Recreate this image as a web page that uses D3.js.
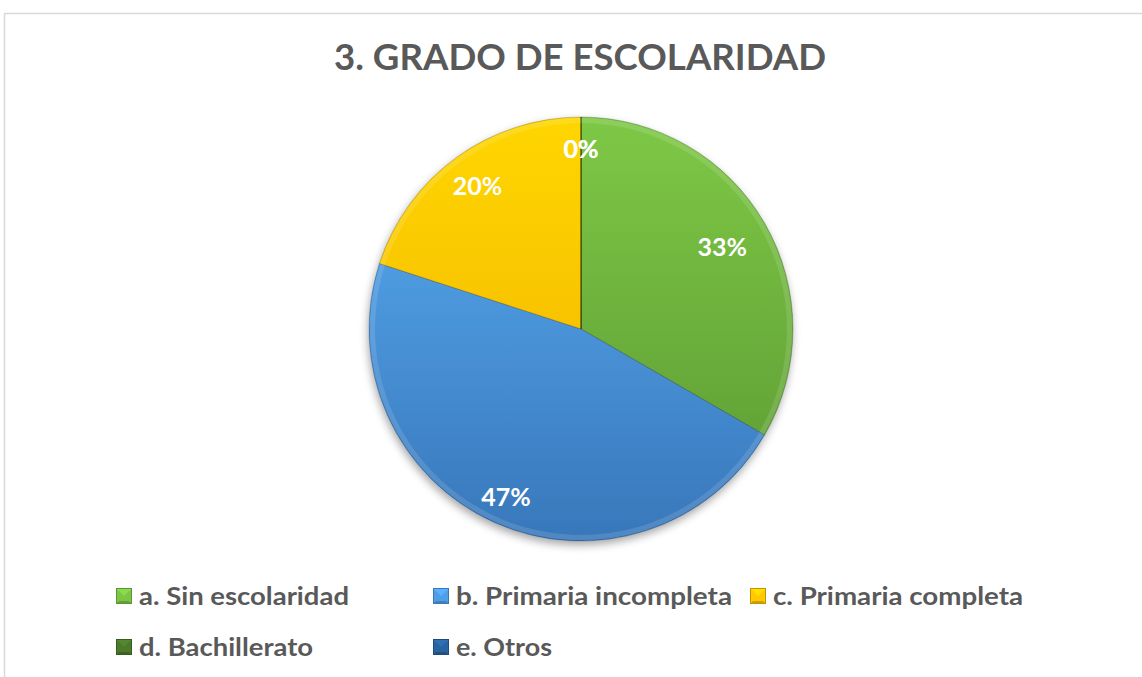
<!DOCTYPE html>
<html>
<head>
<meta charset="utf-8">
<script src="https://cdn.jsdelivr.net/npm/d3@7"></script>
<style>
  body { margin: 0; background: #fff; }
  svg { display: block; }
  text { font-family: Lato, "Open Sans", sans-serif; font-weight: bold; }
</style>
</head>
<body>
<script>
(function(){

//chart data
var title = "3. GRADO DE ESCOLARIDAD";
var categories = ["a. Sin escolaridad", "b. Primaria incompleta", "c. Primaria completa", "d. Bachillerato", "e. Otros"];
var counts = [5, 7, 3, 0, 0]; //respondents per category
var labelRadius = [0.77, 0.87, 0.83, 0.85, 0.85]; //label distance as share of the radius

//slice colours (top shade, bottom shade) and legend swatch colours
var sliceTop = ["#7ec846", "#5aaef5", "#ffd600", "#4e7d2c", "#2b68a6"];
var sliceBottom = ["#5a9832", "#3877ba", "#f0b000", "#3b6121", "#1f4e80"];
var swatch = ["#7cc545", "#4f9fe8", "#ffc800", "#4b7a2a", "#2a64a0"];

window.onload = drawChart();

function drawChart(){

  var width = 1142,
      height = 677;

  var svg = d3.select("body")
      .append("svg")
      .attr("width", width)
      .attr("height", height);

  var defs = svg.append("defs");

  //chart frame
  svg.append("rect")
      .attr("x", 4.5)
      .attr("y", 13.5)
      .attr("width", width + 10)
      .attr("height", height + 10)
      .attr("fill", "#fff")
      .attr("stroke", "#d9d9d9")
      .attr("stroke-width", 1.5);

  //title
  svg.append("text")
      .attr("x", 580)
      .attr("y", 70)
      .attr("text-anchor", "middle")
      .attr("font-size", 37)
      .attr("fill", "#595959")
      .attr("textLength", 492)
      .attr("lengthAdjust", "spacingAndGlyphs")
      .text(title);

  var cx = 581, cy = 329, r = 212;

  //drop shadow under the pie
  var shadow = defs.append("filter")
      .attr("id", "pieShadow")
      .attr("x", "-20%").attr("y", "-20%")
      .attr("width", "140%").attr("height", "140%");
  shadow.append("feDropShadow")
      .attr("dx", -1)
      .attr("dy", 4)
      .attr("stdDeviation", 4)
      .attr("flood-color", "#000")
      .attr("flood-opacity", 0.35);

  //vertical gradient per slice, in the pie's own coordinates
  categories.forEach(function(c, i){
    var g = defs.append("linearGradient")
        .attr("id", "grad" + i)
        .attr("gradientUnits", "userSpaceOnUse")
        .attr("x1", 0).attr("y1", -r)
        .attr("x2", 0).attr("y2", r);
    g.append("stop").attr("offset", "0%").attr("stop-color", sliceTop[i]);
    g.append("stop").attr("offset", "100%").attr("stop-color", sliceBottom[i]);
  });

  var pie = d3.pie()
      .value(function(d){ return d; })
      .sort(null);

  var arcs = pie(counts);

  var arc = d3.arc()
      .innerRadius(0)
      .outerRadius(r);

  var g = svg.append("g")
      .attr("transform", "translate(" + cx + "," + cy + ")");

  g.append("g")
      .attr("filter", "url(#pieShadow)")
    .selectAll(".slice")
      .data(arcs)
      .enter()
      .append("path")
      .attr("class", "slice")
      .attr("d", arc)
      .attr("fill", function(d, i){ return "url(#grad" + i + ")"; })
      .attr("stroke", "rgba(0,0,0,0.2)")
      .attr("stroke-width", 1);

  //light rim along the slice edges
  var rim = d3.arc()
      .innerRadius(r - 6)
      .outerRadius(r - 1);

  g.selectAll(".rim")
      .data(arcs.filter(function(d){ return d.value > 0; }))
      .enter()
      .append("path")
      .attr("class", "rim")
      .attr("d", rim)
      .attr("fill", "rgba(255,255,255,0.12)");

  //percentage labels
  var total = d3.sum(counts);

  g.selectAll(".label")
      .data(arcs)
      .enter()
      .append("text")
      .attr("class", "label")
      .attr("transform", function(d, i){
        var a = (d.startAngle + d.endAngle) / 2,
            rr = r * labelRadius[i];
        return "translate(" + (Math.sin(a) * rr) + "," + (-Math.cos(a) * rr) + ")";
      })
      .attr("dy", "0.35em")
      .attr("text-anchor", "middle")
      .attr("font-size", 25)
      .attr("fill", "#fff")
      .text(function(d){ return Math.round(d.value / total * 100) + "%"; });

  //legend
  var legendX = [116, 433, 750, 116, 433],
      legendY = [596, 596, 596, 647, 647],
      legendW = [210, 276, 250, 174, 96],
      box = 16;

  var items = svg.selectAll(".legend")
      .data(categories)
      .enter()
      .append("g")
      .attr("class", "legend")
      .attr("transform", function(d, i){
        return "translate(" + legendX[i] + "," + legendY[i] + ")";
      });

  items.each(function(d, i){
    var item = d3.select(this),
        c = d3.color(swatch[i]);
    var h = box / 2;
    //bevelled swatch: lighter top face, darker bottom face
    item.append("rect")
        .attr("x", 0).attr("y", -h)
        .attr("width", box).attr("height", box)
        .attr("fill", c);
    item.append("path")
        .attr("d", "M0," + (-h) + "L" + box + "," + (-h) + "L" + (box - 3) + "," + (-h + 3) + "L3," + (-h + 3) + "Z")
        .attr("fill", c.brighter(0.6));
    item.append("path")
        .attr("d", "M0," + (-h) + "L" + box + "," + (-h) + "L" + h + ",0Z")
        .attr("fill", c.brighter(0.3));
    item.append("path")
        .attr("d", "M0," + h + "L" + box + "," + h + "L" + (box - 3) + "," + (h - 3) + "L3," + (h - 3) + "Z")
        .attr("fill", c.darker(0.6));
    item.append("rect")
        .attr("x", 0.5).attr("y", -h + 0.5)
        .attr("width", box - 1).attr("height", box - 1)
        .attr("fill", "none")
        .attr("stroke", c.darker(0.8))
        .attr("stroke-width", 1);

    item.append("text")
        .attr("x", box + 7)
        .attr("y", 9)
        .attr("font-size", 25)
        .attr("fill", "#595959")
        .attr("textLength", legendW[i])
        .attr("lengthAdjust", "spacingAndGlyphs")
        .text(d);
  });
};

})();
</script>
</body>
</html>
